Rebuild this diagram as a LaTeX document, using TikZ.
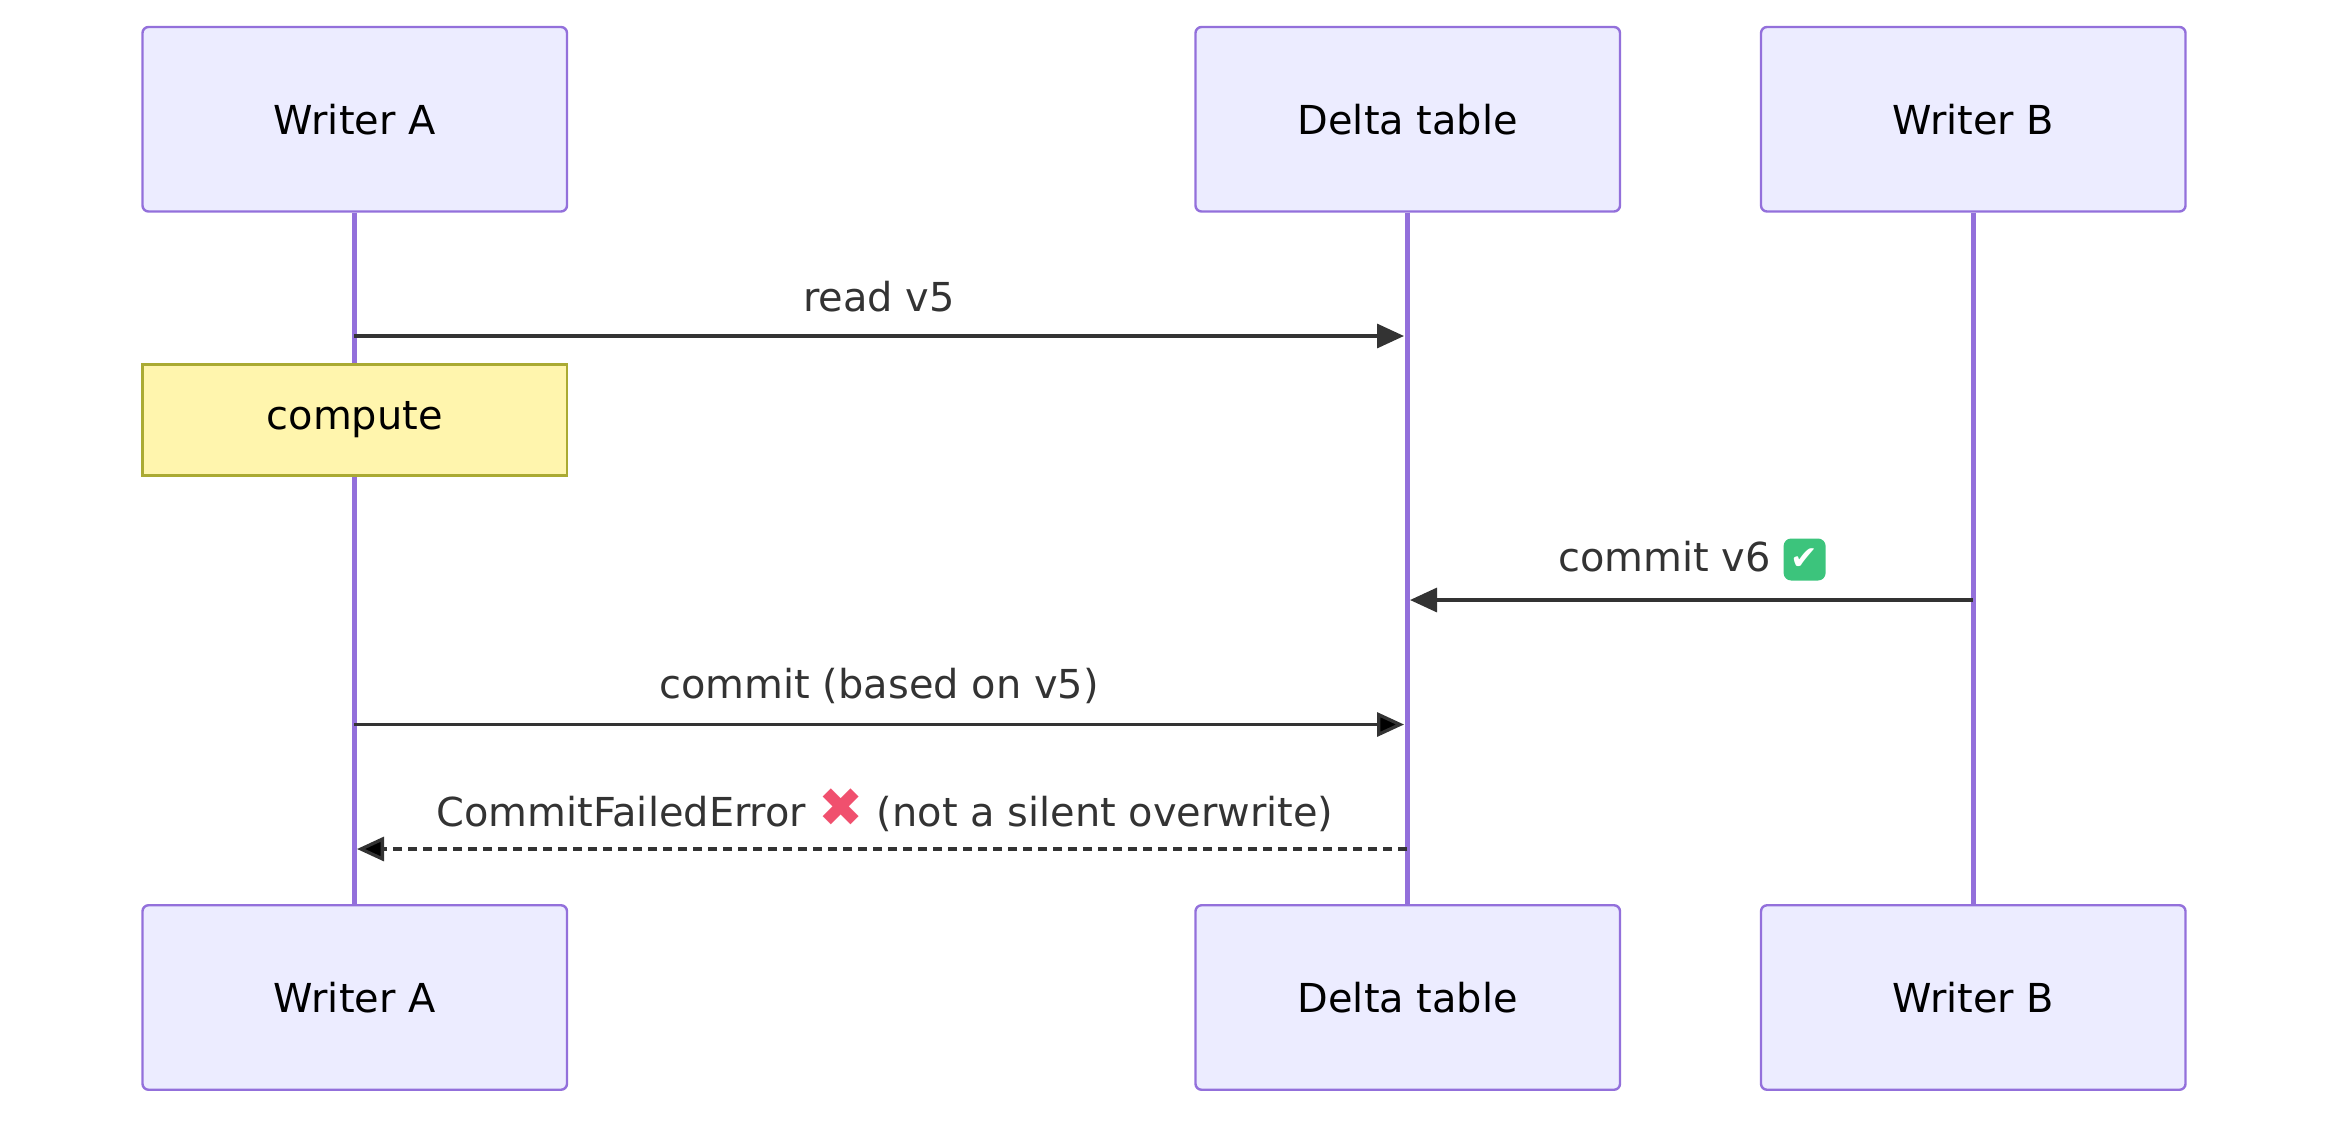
\documentclass[tikz,border=0pt]{standalone}
\usepackage{fontspec}
\setmainfont{DejaVu Sans}
\newfontfamily\symfont{DejaVu Sans}
\usetikzlibrary{arrows.meta}
\definecolor{actfill}{HTML}{ECECFF}
\definecolor{actline}{HTML}{9370DB}
\definecolor{notefill}{HTML}{FFF5AD}
\definecolor{noteline}{HTML}{AAAA33}
\definecolor{msgcol}{HTML}{333333}
\definecolor{okgreen}{HTML}{3CC47C}
\definecolor{badred}{HTML}{F0506E}
\begin{document}
\begin{tikzpicture}[x=0.5pt,y=-0.5pt,font=\fontsize{13.3}{15}\selectfont]

    \tikzstyle{actor}=[rectangle,rounded corners=2pt,draw=actline,fill=actfill,line width=0.8pt,minimum width=141.5pt,minimum height=61.5pt]
    \tikzstyle{life}=[draw=actline,line width=1.6pt]
    \tikzstyle{msg}=[draw=msgcol,line width=1.1pt,-{Triangle[length=9pt,width=8pt]}]
    \tikzstyle{lbl}=[text=msgcol]
    \useasboundingbox (0,0) rectangle (1568,756);

    \node[actor] (atop) at (236.5,79.5) {Writer A};
    \node[actor] (dtop) at (938.5,79.5) {Delta table};
    \node[actor] (btop) at (1315.5,79.5) {Writer B};
    \node[actor] (abot) at (236.5,665) {Writer A};
    \node[actor] (dbot) at (938.5,665) {Delta table};
    \node[actor] (bbot) at (1315.5,665) {Writer B};

    \draw[life] (atop) -- (abot);
    \draw[life] (dtop) -- (dbot);
    \draw[life] (btop) -- (bbot);

    \coordinate (a1) at (236,224);  \coordinate (d1) at (936,224);
    \coordinate (b2) at (1315,400); \coordinate (d2) at (940,400);
    \coordinate (a3) at (236,483);  \coordinate (d3) at (936,483);
    \coordinate (d4) at (938,566);  \coordinate (a4) at (238,566);

    \node[rectangle,draw=noteline,fill=notefill,line width=0.8pt,minimum width=141.5pt,minimum height=37pt] (comp) at (236.5,280) {compute};

    \draw[msg] (a1) -- (d1);
    \node[lbl] (l1) at (586,198) {read v5};
    \draw[msg] (b2) -- (d2);
    \node[lbl] (l2) at (1128,373) {commit v6 \tikz[baseline=-4pt]{\node[fill=okgreen,rounded corners=2.5pt,minimum size=14pt,inner sep=0pt,text=white,font=\symfont\bfseries\fontsize{11}{11}\selectfont] {✔};}};
    \draw[msg] (a3) -- (d3);
    \node[lbl] (l3) at (586,457) {commit (based on v5)};
    \draw[msg,dashed,dash pattern=on 3pt off 2pt] (d4) -- (a4);
    \node[lbl] (l4) at (590,540) {CommitFailedError {\symfont\color{badred}\fontsize{18}{18}\selectfont ✖} (not a silent overwrite)};
\end{tikzpicture}
\end{document}
